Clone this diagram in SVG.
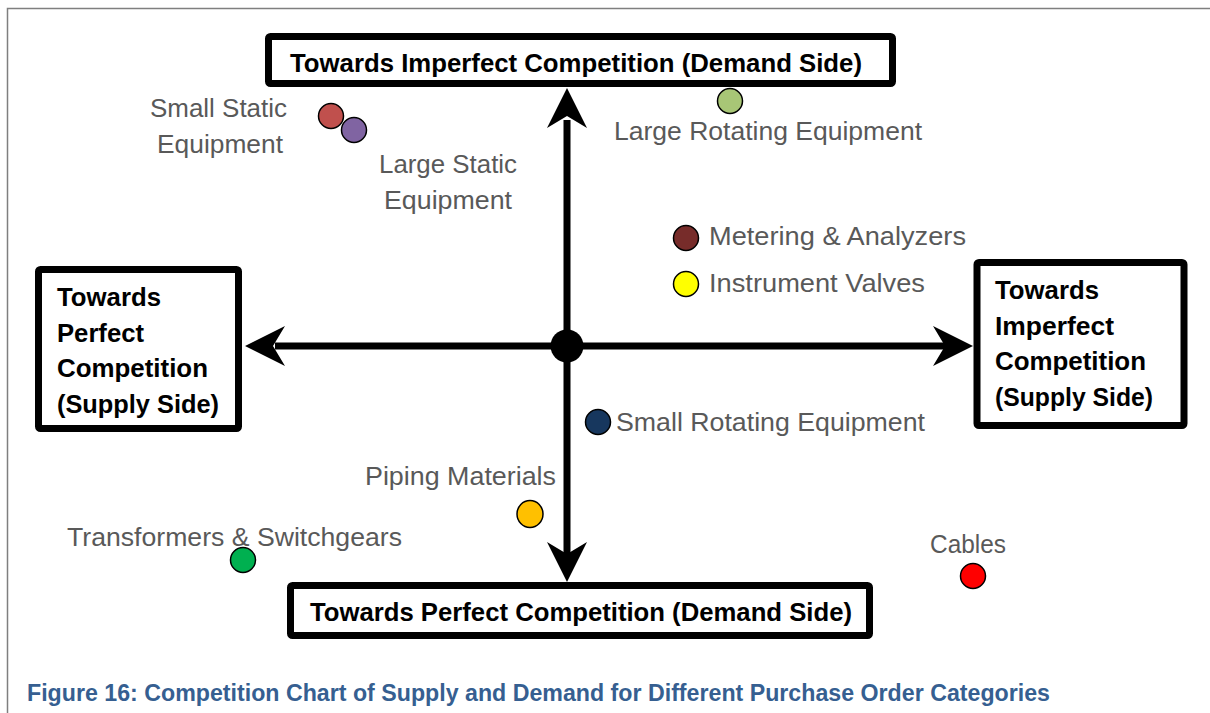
<svg xmlns="http://www.w3.org/2000/svg" width="1210" height="713" viewBox="0 0 1210 713">
  <style>
    .frame { fill: none; stroke: #7f7f7f; stroke-width: 1.5; }
    .box { fill: #ffffff; stroke: #000000; stroke-width: 7; }
    .boxtxt { font-family: "Liberation Sans", Arial, sans-serif; font-weight: bold; font-size: 26px; fill: #000000; }
    .lbl { font-family: "Liberation Sans", Arial, sans-serif; font-size: 25px; fill: #595959; }
    .dot { stroke: #000000; stroke-width: 1.5; }
    .axis { stroke: #000000; stroke-width: 7; fill: none; }
    .head { fill: #000000; }
    .caption { font-family: "Liberation Sans", Arial, sans-serif; font-weight: bold; font-size: 23px; fill: #365f91; }
  </style>

  <rect width="1210" height="713" fill="#ffffff"/>
  <!-- page frame running off the right and bottom edges -->
  <rect class="frame" x="7.5" y="8.5" width="1300" height="800"/>

  <!-- axes with chevron arrowheads -->
  <g id="connectors">
    <line class="axis" x1="567" y1="120" x2="567" y2="555"/>
    <line class="axis" x1="275" y1="346" x2="945" y2="346"/>
    <path class="head" d="M973,346 L933,326 L945,346 L933,366 Z"/>
    <path class="head" d="M245,346 L285,326 L273,346 L285,366 Z"/>
    <path class="head" d="M567,88 L547,128 L567,116 L587,128 Z"/>
    <path class="head" d="M567,582 L547,542 L567,554 L587,542 Z"/>
    <circle cx="567" cy="346" r="16.5" fill="#000000"/>
  </g>

  <g id="node-top">
    <rect class="box" x="268.5" y="36.5" width="624" height="47" rx="2"/>
    <text class="boxtxt" x="290" y="72" textLength="572" lengthAdjust="spacingAndGlyphs">Towards Imperfect Competition (Demand Side)</text>
  </g>

  <g id="node-bottom">
    <rect class="box" x="290.5" y="585.5" width="579" height="50" rx="2"/>
    <text class="boxtxt" x="310" y="621" textLength="542" lengthAdjust="spacingAndGlyphs">Towards Perfect Competition (Demand Side)</text>
  </g>

  <g id="node-left">
    <rect class="box" x="38.5" y="269.5" width="200" height="159" rx="2"/>
    <text class="boxtxt" x="57" y="306" textLength="104" lengthAdjust="spacingAndGlyphs">Towards</text>
    <text class="boxtxt" x="57" y="342" textLength="87" lengthAdjust="spacingAndGlyphs">Perfect</text>
    <text class="boxtxt" x="57" y="377" textLength="151" lengthAdjust="spacingAndGlyphs">Competition</text>
    <text class="boxtxt" x="57" y="413" textLength="162" lengthAdjust="spacingAndGlyphs">(Supply Side)</text>
  </g>

  <g id="node-right">
    <rect class="box" x="977" y="262.5" width="207" height="163" rx="2"/>
    <text class="boxtxt" x="995" y="299" textLength="104" lengthAdjust="spacingAndGlyphs">Towards</text>
    <text class="boxtxt" x="995" y="335" textLength="119" lengthAdjust="spacingAndGlyphs">Imperfect</text>
    <text class="boxtxt" x="995" y="370" textLength="151" lengthAdjust="spacingAndGlyphs">Competition</text>
    <text class="boxtxt" x="995" y="406" textLength="158" lengthAdjust="spacingAndGlyphs">(Supply Side)</text>
  </g>

  <g id="item-small-static">
    <circle class="dot" cx="331" cy="116" r="12.5" fill="#c0504d"/>
    <text class="lbl" x="150" y="117" textLength="137" lengthAdjust="spacingAndGlyphs">Small Static</text>
    <text class="lbl" x="157" y="153" textLength="126" lengthAdjust="spacingAndGlyphs">Equipment</text>
  </g>

  <g id="item-large-static">
    <circle class="dot" cx="354" cy="130" r="12.5" fill="#8064a2"/>
    <text class="lbl" x="379" y="173" textLength="138" lengthAdjust="spacingAndGlyphs">Large Static</text>
    <text class="lbl" x="384" y="209" textLength="128" lengthAdjust="spacingAndGlyphs">Equipment</text>
  </g>

  <g id="item-large-rotating">
    <circle class="dot" cx="730" cy="101" r="12.5" fill="#a8c676"/>
    <text class="lbl" x="614" y="140" textLength="308" lengthAdjust="spacingAndGlyphs">Large Rotating Equipment</text>
  </g>

  <g id="item-metering">
    <circle class="dot" cx="686" cy="238" r="12.5" fill="#772c2a"/>
    <text class="lbl" x="709" y="245" textLength="257" lengthAdjust="spacingAndGlyphs">Metering &amp; Analyzers</text>
  </g>

  <g id="item-instrument-valves">
    <circle class="dot" cx="686" cy="284" r="12.5" fill="#ffff00"/>
    <text class="lbl" x="709" y="292" textLength="216" lengthAdjust="spacingAndGlyphs">Instrument Valves</text>
  </g>

  <g id="item-small-rotating">
    <circle class="dot" cx="598" cy="422" r="12.5" fill="#17375e"/>
    <text class="lbl" x="616" y="431" textLength="309" lengthAdjust="spacingAndGlyphs">Small Rotating Equipment</text>
  </g>

  <g id="item-piping">
    <ellipse class="dot" cx="530" cy="514" rx="13" ry="13.5" fill="#ffc000"/>
    <text class="lbl" x="365" y="485" textLength="191" lengthAdjust="spacingAndGlyphs">Piping Materials</text>
  </g>

  <g id="item-transformers">
    <circle class="dot" cx="243" cy="560" r="12.5" fill="#00b050"/>
    <text class="lbl" x="67" y="546" textLength="335" lengthAdjust="spacingAndGlyphs">Transformers &amp; Switchgears</text>
  </g>

  <g id="item-cables">
    <circle class="dot" cx="973" cy="576" r="12.5" fill="#ff0000"/>
    <text class="lbl" x="930" y="553" textLength="76" lengthAdjust="spacingAndGlyphs">Cables</text>
  </g>

  <text class="caption" x="27" y="701" textLength="1023" lengthAdjust="spacingAndGlyphs">Figure 16: Competition Chart of Supply and Demand for Different Purchase Order Categories</text>
</svg>
